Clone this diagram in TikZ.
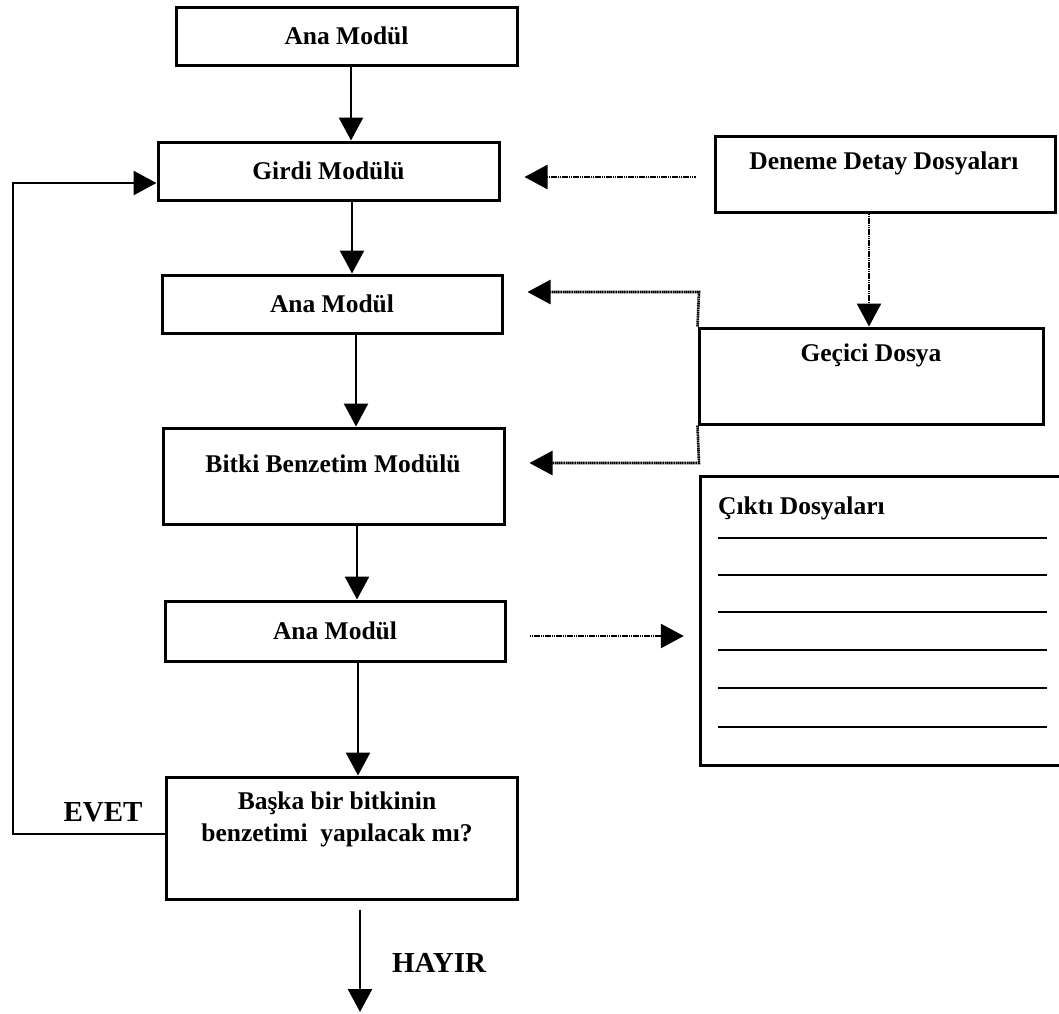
\documentclass[tikz,border=0pt]{standalone}
\usepackage{fontspec}
\setmainfont{Liberation Serif}
\usetikzlibrary{arrows.meta}
\begin{document}
\begin{tikzpicture}[x=1pt,y=-1pt,
  box/.style={draw, line width=3pt, rectangle, inner sep=0pt},
  lbl/.style={font=\fontsize{25.5}{32}\selectfont\bfseries, inner sep=0pt, align=center},
  big/.style={font=\fontsize{29}{34}\selectfont\bfseries, inner sep=0pt},
  arr/.style={line width=2.6pt, -{Triangle[width=24pt,length=23pt]}},
  dotarr/.style={line width=2.6pt, dash pattern=on 1.6pt off 0.6pt, -{Triangle[width=24pt,length=23pt]}},
  rule/.style={line width=2.6pt}
  ]
\useasboundingbox (0,0) rectangle (1059,1013);
% main column
\node[box, lbl, minimum width=341pt, minimum height=58pt] (top) at (346.5,36) {Ana Modül};
\node[box, lbl, minimum width=341pt, minimum height=58pt] (girdi) at (328.5,171) {Girdi Modülü};
\node[box, lbl, minimum width=340pt, minimum height=58pt] (ana2) at (332,304) {Ana Modül};
\node[box, minimum width=341pt, minimum height=96pt] (bitki) at (333.5,476) {};
\node[lbl] (bitkit) at (333,464) {Bitki Benzetim Modülü};
\node[box, lbl, minimum width=340pt, minimum height=60pt] (ana3) at (335,631) {Ana Modül};
\node[box, minimum width=351pt, minimum height=122pt] (dec) at (341.5,838) {};
\node[lbl] (dect) at (337,819) {Başka bir bitkinin\\benzetimi~ yapılacak mı?};
% right column
\node[box, minimum width=340pt, minimum height=76pt] (den) at (885,174) {};
\node[lbl] (dent) at (884,163) {Deneme Detay Dosyaları};
\node[box, minimum width=344pt, minimum height=96pt] (gec) at (871,376) {};
\node[lbl] (gect) at (871,355) {Geçici Dosya};
\node[minimum width=358pt, minimum height=288pt, inner sep=0pt] (out) at (880,621) {};
\draw[line width=3pt] (out.north east) -- (out.north west) -- (out.south west) -- (out.south east);
\node[lbl, anchor=west] (outt) at (718,508) {Çıktı Dosyaları};
\foreach \yy in {538,575,612,650,688,727} \draw[rule] (718,\yy) -- (1047,\yy);
% labels
\node[big] (evet) at (103,812) {EVET};
\node[big] (hayir) at (439,963) {HAYIR};
% coordinates
\coordinate (a1) at (351,0);
\coordinate (a2) at (352,0);
\coordinate (a3) at (356,0);
\coordinate (a4) at (357,0);
\coordinate (a5) at (358,0);
\coordinate (endp) at (360,1012);
\coordinate (l1) at (13,834);
\coordinate (l2) at (13,183);
\coordinate (y177) at (0,177);
\coordinate (y636) at (0,636);
\coordinate (cx) at (869,0);
\coordinate (g1) at (699,292);
\coordinate (g2) at (699,463);
% solid connectors
\draw[arr] (top.south -| a1) -- (girdi.north -| a1);
\draw[arr] (girdi.south -| a2) -- (ana2.north -| a2);
\draw[arr] (ana2.south -| a3) -- (bitki.north -| a3);
\draw[arr] (bitki.south -| a4) -- (ana3.north -| a4);
\draw[arr] (ana3.south -| a5) -- (dec.north -| a5);
\draw[arr, shorten <=9pt] (dec.south -| endp) -- (endp);
\draw[arr] (dec.west |- l1) -- (l1) -- (l2) -- (girdi.west |- l2);
% dotted connectors
\draw[dotarr, shorten <=18pt, shorten >=24pt] (den.west |- y177) -- (girdi.east |- y177);
\draw[dotarr] (den.south -| cx) -- (gec.north -| cx);
\draw[dotarr, shorten >=24pt] (gec.north west) -- (g1) -- (ana2.east |- g1);
\draw[dotarr, shorten >=24pt] (gec.south west) -- (g2) -- (bitki.east |- g2);
\draw[dotarr, shorten <=23pt, shorten >=17pt] (ana3.east |- y636) -- (out.west |- y636);
\end{tikzpicture}
\end{document}
